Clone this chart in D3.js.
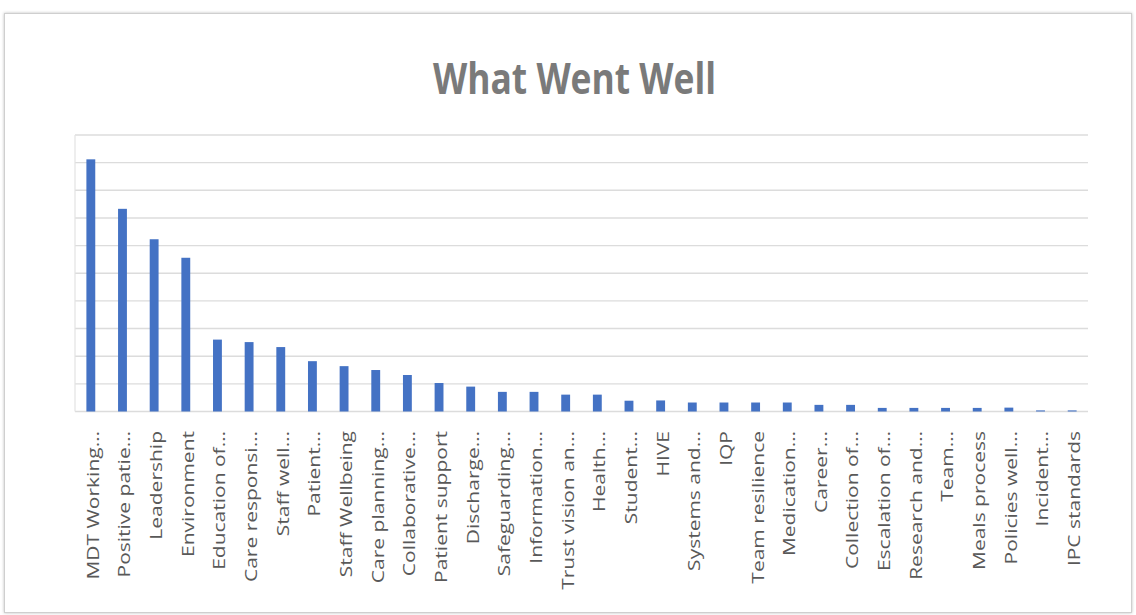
<!DOCTYPE html>
<html>
<head>
<meta charset="utf-8">
<script src="https://cdn.jsdelivr.net/npm/d3@7"></script>
<style>
  html, body { margin: 0; padding: 0; background: #ffffff; }
  svg { display: block; }
</style>
</head>
<body>
<svg id="chart" width="1136" height="615"></svg>
<script>
// Chart content
const title = "What Went Well";

const categories = [
  "MDT Working…", "Positive patie…", "Leadership", "Environment",
  "Education of…", "Care responsi…", "Staff well…", "Patient…",
  "Staff Wellbeing", "Care planning…", "Collaborative…", "Patient support",
  "Discharge…", "Safeguarding…", "Information…", "Trust vision an…",
  "Health…", "Student…", "HIVE", "Systems and…",
  "IQP", "Team resilience", "Medication…", "Career…",
  "Collection of…", "Escalation of…", "Research and…", "Team…",
  "Meals process", "Policies well…", "Incident…", "IPC standards"
];

const values = [
  91.2, 73.3, 62.3, 55.6,
  26.0, 25.1, 23.3, 18.2,
  16.4, 15.0, 13.2, 10.3,
  9.0, 7.1, 7.1, 6.1,
  6.1, 3.9, 4.0, 3.25,
  3.25, 3.25, 3.25, 2.4,
  2.4, 1.3, 1.3, 1.3,
  1.3, 1.4, 0.4, 0.4
];

const gridTicks = [0, 10, 20, 30, 40, 50, 60, 70, 80, 90, 100];

// Layout
const plot = { left: 75, right: 1088, top: 135, bottom: 411.5 };

const svg = d3.select("#chart");

// soft frame around the chart
const defs = svg.append("defs");
const f = defs.append("filter").attr("id", "frameShadow")
  .attr("x", "-2%").attr("y", "-2%").attr("width", "104%").attr("height", "104%");
f.append("feDropShadow").attr("dx", 0).attr("dy", 0)
  .attr("stdDeviation", 1.6).attr("flood-color", "#000").attr("flood-opacity", 0.25);

svg.append("rect")
  .attr("x", 4.5).attr("y", 13.5)
  .attr("width", 1127).attr("height", 599)
  .attr("fill", "#ffffff")
  .attr("stroke", "#cfcfcf")
  .attr("stroke-width", 1)
  .attr("filter", "url(#frameShadow)");

// Scales
const x = d3.scaleBand()
  .domain(categories)
  .range([plot.left, plot.right])
  .paddingInner(0.72)
  .paddingOuter(0.36);

const y = d3.scaleLinear()
  .domain([0, 100])
  .range([plot.bottom, plot.top]);

// Horizontal gridlines
svg.append("g")
  .selectAll("line")
  .data(gridTicks)
  .join("line")
  .attr("x1", plot.left).attr("x2", plot.right)
  .attr("y1", d => y(d)).attr("y2", d => y(d))
  .attr("stroke", "#dcdcdc")
  .attr("stroke-width", 1.4);

// light vertical axis line
svg.append("line")
  .attr("x1", plot.left).attr("x2", plot.left)
  .attr("y1", y(100)).attr("y2", y(0))
  .attr("stroke", "#e3e3e3")
  .attr("stroke-width", 1.2);

// Bars
svg.append("g")
  .selectAll("rect")
  .data(categories.map((c, i) => ({ c, v: values[i] })))
  .join("rect")
  .attr("x", d => x(d.c))
  .attr("width", x.bandwidth())
  .attr("y", d => y(d.v))
  .attr("height", d => y(0) - y(d.v))
  .attr("fill", "#4472C4");

// Category axis labels (rotated)
const xAxis = d3.axisBottom(x).tickSize(0).tickPadding(0);
const gx = svg.append("g")
  .attr("transform", `translate(0,${plot.bottom})`)
  .call(xAxis);
gx.select(".domain").remove();
gx.selectAll(".tick text")
  .attr("font-family", "'Open Sans', sans-serif")
  .attr("font-size", 21)
  .attr("fill", "#595959")
  .attr("text-anchor", "end")
  .attr("dy", null)
  .attr("y", 0)
  .attr("dominant-baseline", "central")
  .attr("transform", "translate(1.5,19.5) rotate(-90) scale(1,0.76)");

// Title
svg.append("text")
  .attr("x", 574.5)
  .attr("y", 93.5)
  .attr("text-anchor", "middle")
  .attr("font-family", "'Open Sans', sans-serif")
  .attr("font-weight", 700)
  .attr("font-size", 43)
  .attr("fill", "#7a7a7a")
  .attr("textLength", 283)
  .attr("lengthAdjust", "spacingAndGlyphs")
  .text(title);
</script>
</body>
</html>
